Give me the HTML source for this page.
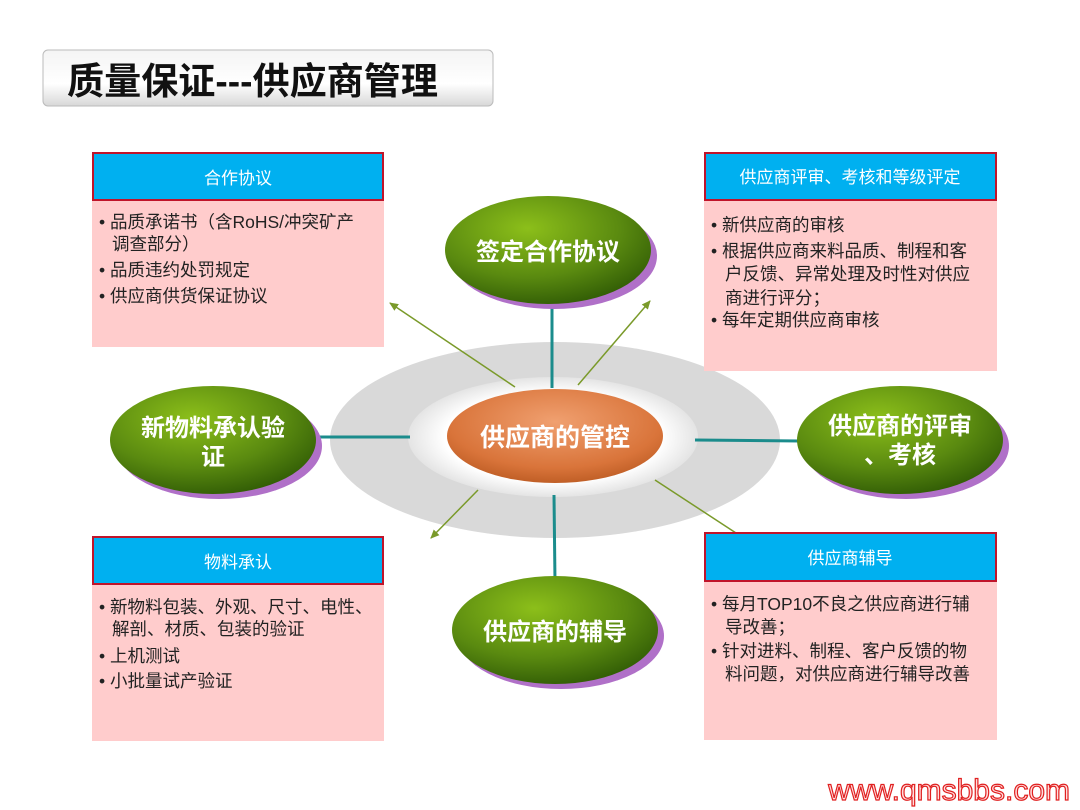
<!DOCTYPE html>
<html><head><meta charset="utf-8"><style>
body{margin:0;background:#fff;}
svg{display:block;font-family:"Liberation Sans","Noto Sans CJK SC",sans-serif;}
</style></head><body>
<svg width="1080" height="810" viewBox="0 0 1080 810" xmlns="http://www.w3.org/2000/svg">
<defs>
<linearGradient id="tg" x1="0" y1="0" x2="0" y2="1"><stop offset="0" stop-color="#f4f4f4"/><stop offset="0.6" stop-color="#fff"/><stop offset="1" stop-color="#d8d8d8"/></linearGradient>
<radialGradient id="gg" cx="0.4" cy="0.3" r="0.75"><stop offset="0" stop-color="#8cbf1a"/><stop offset="0.6" stop-color="#5a8a10"/><stop offset="1" stop-color="#2f5a05"/></radialGradient>
<radialGradient id="og" cx="0.5" cy="0.35" r="0.7"><stop offset="0" stop-color="#f0a070"/><stop offset="0.7" stop-color="#d9743a"/><stop offset="1" stop-color="#b85820"/></radialGradient>
<radialGradient id="wg" cx="0.5" cy="0.5" r="0.5"><stop offset="0.75" stop-color="#fff"/><stop offset="1" stop-color="#e4e4e4"/></radialGradient>
<marker id="ar" markerWidth="10" markerHeight="10" refX="8" refY="5" orient="auto" markerUnits="userSpaceOnUse"><path d="M0,1 L9,5 L0,9 z" fill="#7a9a2a"/></marker>
</defs>
<rect x="43" y="50" width="450" height="56" rx="5" fill="url(#tg)" stroke="#bbb"/>
<text x="67" y="94" font-size="37" font-weight="bold" fill="#111" textLength="371" lengthAdjust="spacingAndGlyphs">质量保证---供应商管理</text>

<ellipse cx="555" cy="440" rx="225" ry="98" fill="#d9d9d9"/>
<ellipse cx="553" cy="437" rx="145" ry="60" fill="url(#wg)"/>
<ellipse cx="555" cy="436" rx="108" ry="47" fill="url(#og)"/>
<text x="555" y="446" font-size="25" font-weight="bold" fill="#fff" text-anchor="middle">供应商的管控</text>

<g stroke="#1b8c8c" stroke-width="3">
<line x1="552" y1="300" x2="552" y2="388"/>
<line x1="554" y1="495" x2="555" y2="582"/>
<line x1="312" y1="437" x2="410" y2="437"/>
<line x1="695" y1="440" x2="800" y2="441"/>
</g>
<g stroke="#7a9a2a" stroke-width="1.5" fill="none">
<line x1="515" y1="387" x2="390" y2="303" marker-end="url(#ar)"/>
<line x1="578" y1="385" x2="650" y2="301" marker-end="url(#ar)"/>
<line x1="478" y1="490" x2="431" y2="538" marker-end="url(#ar)"/>
<line x1="655" y1="480" x2="736" y2="533"/>
</g>

<g>
<ellipse cx="554" cy="256" rx="103" ry="53" fill="#b070c8"/>
<ellipse cx="548" cy="250" rx="103" ry="54" fill="url(#gg)"/>
<text x="548" y="260" font-size="24" font-weight="bold" fill="#fff" text-anchor="middle">签定合作协议</text>

<ellipse cx="219" cy="446" rx="103" ry="53" fill="#b070c8"/>
<ellipse cx="213" cy="440" rx="103" ry="54" fill="url(#gg)"/>
<text x="213" y="436" font-size="24" font-weight="bold" fill="#fff" text-anchor="middle">新物料承认验</text>
<text x="213" y="465" font-size="24" font-weight="bold" fill="#fff" text-anchor="middle">证</text>

<ellipse cx="906" cy="446" rx="103" ry="53" fill="#b070c8"/>
<ellipse cx="900" cy="440" rx="103" ry="54" fill="url(#gg)"/>
<text x="900" y="434" font-size="24" font-weight="bold" fill="#fff" text-anchor="middle">供应商的评审</text>
<text x="900" y="463" font-size="24" font-weight="bold" fill="#fff" text-anchor="middle">、考核</text>

<ellipse cx="561" cy="636" rx="103" ry="53" fill="#b070c8"/>
<ellipse cx="555" cy="630" rx="103" ry="54" fill="url(#gg)"/>
<text x="555" y="640" font-size="24" font-weight="bold" fill="#fff" text-anchor="middle">供应商的辅导</text>
</g>

<g font-size="17.5" fill="#222">
<rect x="92" y="200" width="292" height="147" fill="#ffcccc"/>
<rect x="93" y="153" width="290" height="47" fill="#00b0f0" stroke="#c0142a" stroke-width="2"/>
<text x="238" y="184" font-size="17" fill="#fff" text-anchor="middle">合作协议</text>
<text x="99" y="228">• 品质承诺书（含RoHS/冲突矿产</text>
<text x="112" y="250">调查部分）</text>
<text x="99" y="276">• 品质违约处罚规定</text>
<text x="99" y="302">• 供应商供货保证协议</text>

<rect x="704" y="200" width="293" height="171" fill="#ffcccc"/>
<rect x="705" y="153" width="291" height="47" fill="#00b0f0" stroke="#c0142a" stroke-width="2"/>
<text x="850" y="183" font-size="17" fill="#fff" text-anchor="middle">供应商评审、考核和等级评定</text>
<text x="711" y="231">• 新供应商的审核</text>
<text x="711" y="257">• 根据供应商来料品质、制程和客</text>
<text x="725" y="280">户反馈、异常处理及时性对供应</text>
<text x="725" y="304">商进行评分；</text>
<text x="711" y="326">• 每年定期供应商审核</text>

<rect x="92" y="584" width="292" height="157" fill="#ffcccc"/>
<rect x="93" y="537" width="290" height="47" fill="#00b0f0" stroke="#c0142a" stroke-width="2"/>
<text x="238" y="568" font-size="17" fill="#fff" text-anchor="middle">物料承认</text>
<text x="99" y="613">• 新物料包装、外观、尺寸、电性、</text>
<text x="112" y="635">解剖、材质、包装的验证</text>
<text x="99" y="662">• 上机测试</text>
<text x="99" y="687">• 小批量试产验证</text>

<rect x="704" y="581" width="293" height="159" fill="#ffcccc"/>
<rect x="705" y="533" width="291" height="48" fill="#00b0f0" stroke="#c0142a" stroke-width="2"/>
<text x="850" y="564" font-size="17" fill="#fff" text-anchor="middle">供应商辅导</text>
<text x="711" y="610">• 每月TOP10不良之供应商进行辅</text>
<text x="725" y="633">导改善；</text>
<text x="711" y="657">• 针对进料、制程、客户反馈的物</text>
<text x="725" y="680">料问题，对供应商进行辅导改善</text>
</g>

<text x="1070" y="800" font-size="30" fill="#ffdddd" stroke="#e02020" stroke-width="1.2" text-anchor="end">www.qmsbbs.com</text>
</svg>
</body></html>
